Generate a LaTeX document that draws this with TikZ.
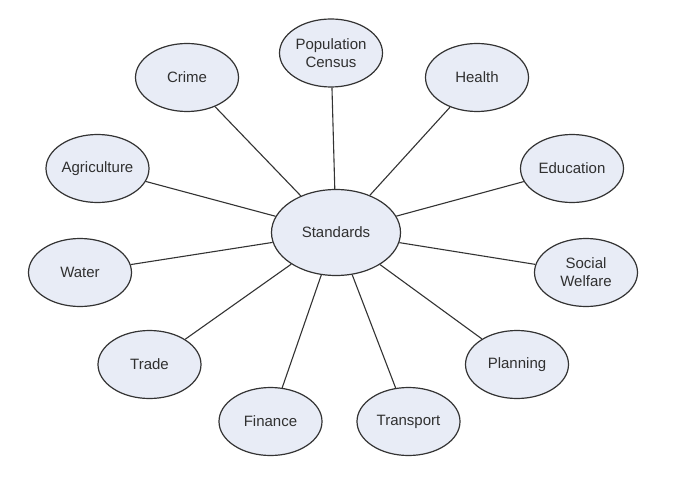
\documentclass[tikz,border=0pt]{standalone}
\usepackage{fontspec}
\setmainfont{Liberation Sans}
\usetikzlibrary{shapes.geometric}
\definecolor{nodefill}{HTML}{E8ECF6}
\definecolor{edgecol}{HTML}{333333}
\definecolor{textcol}{HTML}{303030}
\begin{document}
\begin{tikzpicture}[x=1pt,y=-1pt,
  topic/.style={ellipse, draw=edgecol, fill=nodefill, line width=1.2pt,
    minimum width=103pt, minimum height=68pt, inner sep=0pt,
    font=\fontsize{15}{18}\selectfont, text=textcol, align=center},
  hub/.style={topic, minimum width=129pt, minimum height=86pt},
  link/.style={draw=edgecol, line width=1.1pt}]
\useasboundingbox[fill=white] (0,0) rectangle (674,484);
\node[hub] (std) at (336,232.5) {Standards};
\node[topic] (crime) at (187,77.5) {Crime};
\node[topic] (pop) at (331,53) {Population\\Census};
\node[topic] (health) at (477,77.5) {Health};
\node[topic] (edu) at (572,168.5) {Education};
\node[topic] (agri) at (97.5,168.5) {Agriculture};
\node[topic] (water) at (80,272.5) {Water};
\node[topic] (soc) at (586,272.5) {Social\\Welfare};
\node[topic] (trade) at (149.5,364.5) {Trade};
\node[topic] (plan) at (517,364.5) {Planning};
\node[topic] (fin) at (270.5,421.5) {Finance};
\node[topic] (trans) at (408.5,421.5) {Transport};
\foreach \n in {crime,pop,health,edu,agri,water,soc,trade,plan,fin,trans}
  \draw[link] (std) -- (\n);
\end{tikzpicture}
\end{document}
